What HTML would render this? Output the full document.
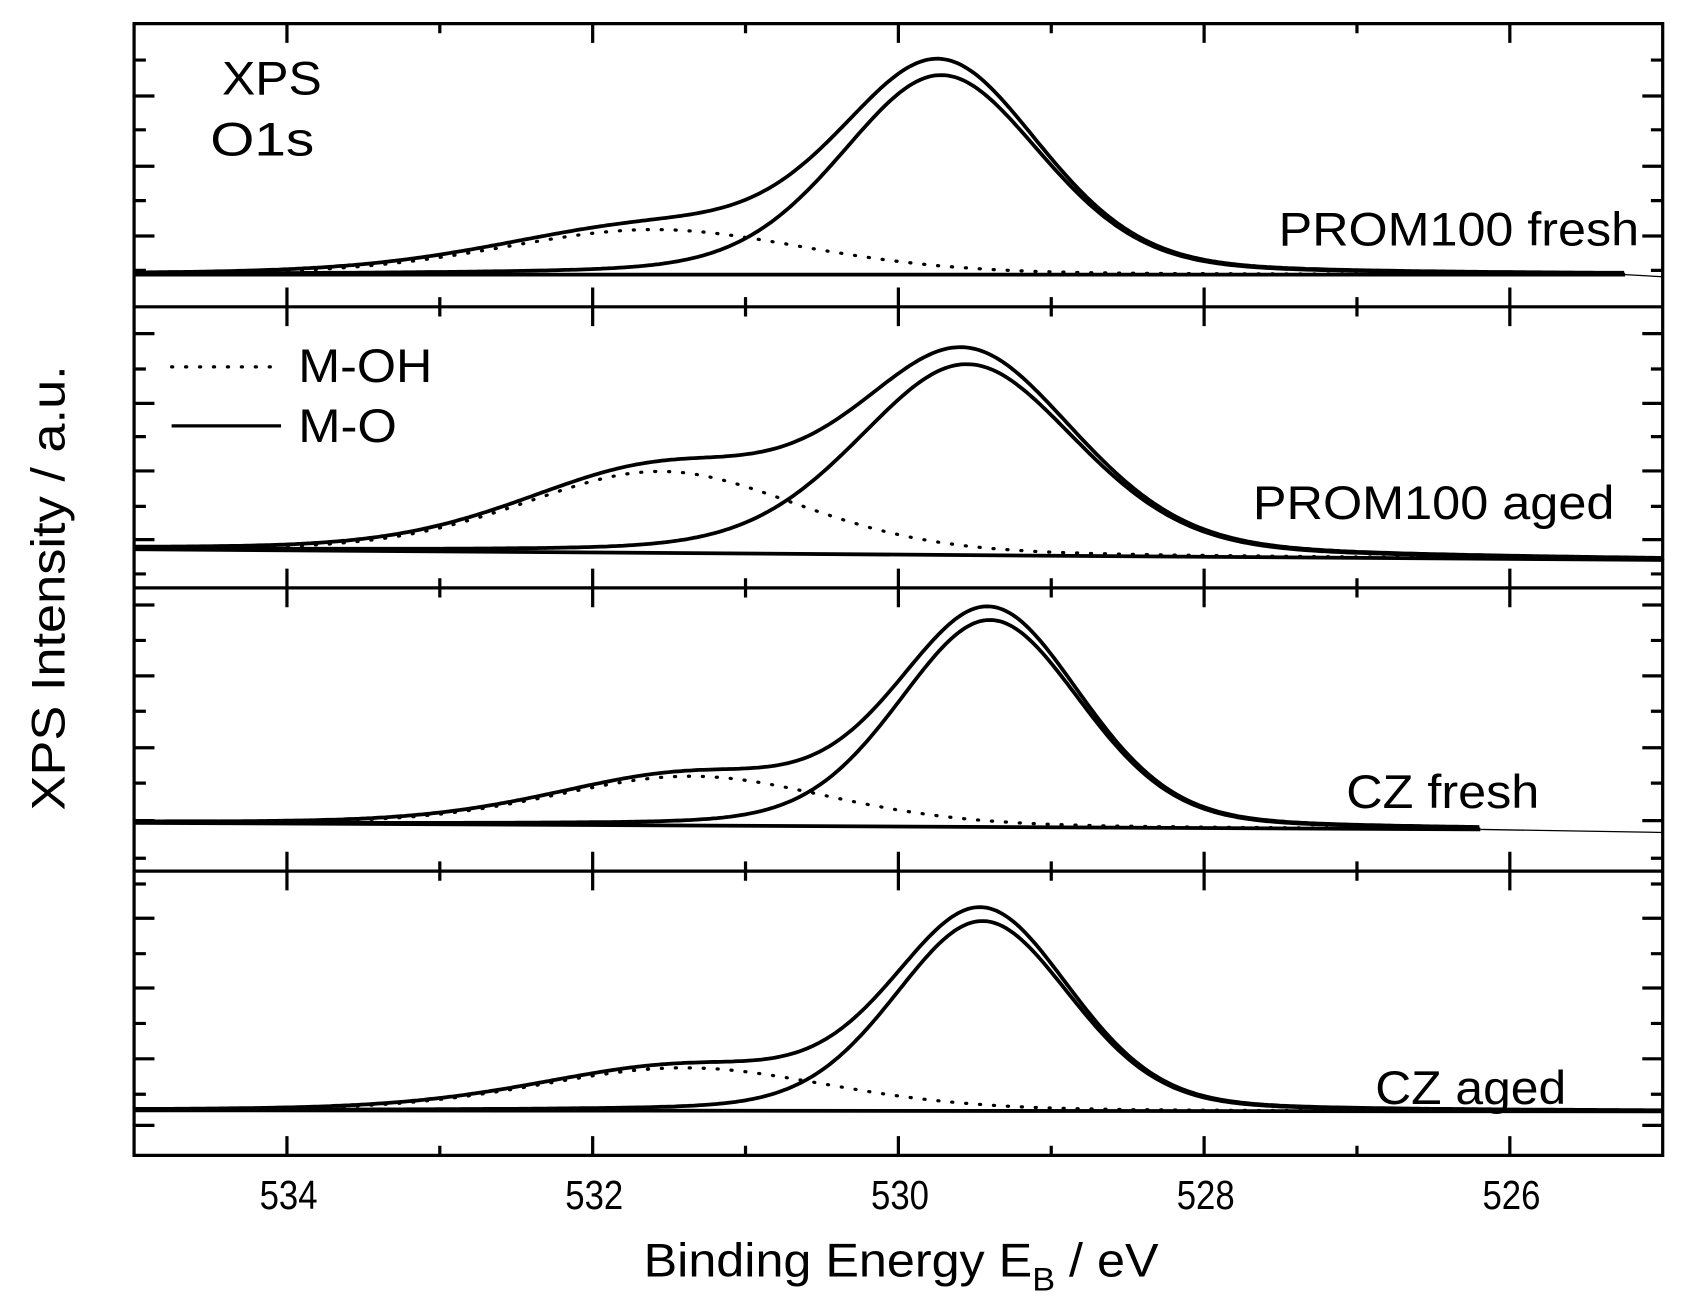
<!DOCTYPE html>
<html><head><meta charset="utf-8"><style>
html,body{margin:0;padding:0;background:#fff;}
svg{display:block;}
text{font-family:"Liberation Sans",sans-serif;fill:#000;}
</style></head><body>
<svg id="s" width="1682" height="1312" viewBox="0 0 1568 1223" preserveAspectRatio="none" xmlns="http://www.w3.org/2000/svg">
<g id="g" fill="none" stroke="#000" stroke-width="3"></g>
<text x="207" y="88" font-size="44" textLength="93" lengthAdjust="spacingAndGlyphs">XPS</text>
<text x="196" y="145" font-size="44" textLength="97" lengthAdjust="spacingAndGlyphs">O1s</text>
<text x="1192" y="229" font-size="44" textLength="336" lengthAdjust="spacingAndGlyphs">PROM100 fresh</text>
<text x="1168" y="484" font-size="44" textLength="337" lengthAdjust="spacingAndGlyphs">PROM100 aged</text>
<text x="1255" y="753" font-size="44" textLength="180" lengthAdjust="spacingAndGlyphs">CZ fresh</text>
<text x="1282" y="1029" font-size="44" textLength="178" lengthAdjust="spacingAndGlyphs">CZ aged</text>
<text x="278" y="356" font-size="44" textLength="125" lengthAdjust="spacingAndGlyphs">M-OH</text>
<text x="278" y="412" font-size="44" textLength="92" lengthAdjust="spacingAndGlyphs">M-O</text>
<text x="242" y="1127" font-size="38" textLength="54" lengthAdjust="spacingAndGlyphs">534</text>
<text x="527" y="1127" font-size="38" textLength="54" lengthAdjust="spacingAndGlyphs">532</text>
<text x="812" y="1127" font-size="38" textLength="54" lengthAdjust="spacingAndGlyphs">530</text>
<text x="1097" y="1127" font-size="38" textLength="54" lengthAdjust="spacingAndGlyphs">528</text>
<text x="1382" y="1127" font-size="38" textLength="54" lengthAdjust="spacingAndGlyphs">526</text>
<text x="600" y="1190" font-size="44" textLength="480" lengthAdjust="spacingAndGlyphs">Binding Energy E<tspan font-size="30" dy="13">B</tspan><tspan dy="-13"> / eV</tspan></text>
<text transform="translate(60,548) rotate(-90)" font-size="44" text-anchor="middle" textLength="415" lengthAdjust="spacingAndGlyphs">XPS Intensity / a.u.</text>
</svg>
<script>
var g=document.getElementById('g');
function P(d,w,da){var p=document.createElementNS('http://www.w3.org/2000/svg','path');p.setAttribute('d',d);if(w)p.setAttribute('stroke-width',w);if(da){p.setAttribute('stroke-dasharray',da);p.setAttribute('stroke-linecap','round');}g.appendChild(p);}
function X(E){return 125+(535-E)*142.5;}
var L=125,R=1550,T=22,B=1077;
var seps=[22,286,548,812,1077];
P('M'+L+' '+T+'H'+R+'V'+B+'H'+L+'Z',3);
for(var i=1;i<4;i++)P('M'+L+' '+seps[i]+'H'+R,3);
var d='';
for(var i=0;i<4;i++){for(var E=534;E>=526;E--){var x=X(E),len=(E%2==0)?18:9;d+='M'+x+' '+seps[i]+'v'+len+'M'+x+' '+seps[i+1]+'v'+(-len);}}
P(d,3);
var yt=[[56,89.5,121,155,187,220,252],[311,344,376,407,439,472,503,535],[564,597,630,663,697,730,765,800],[824,856,889,921,954,987,1020,1049]];
var lng=[[0,1,0,1,0,1,0],[1,0,1,0,1,0,1,0],[1,0,1,0,1,0,1,0],[0,1,0,1,0,1,0,1]];
d='';
for(var i=0;i<4;i++)for(var j=0;j<yt[i].length;j++){var l=lng[i][j]?19:11;d+='M'+L+' '+yt[i][j]+'h'+l+'M'+R+' '+yt[i][j]+'h'+(-l);}
P(d,3);
function pv(E,c,s,eta){var gg=Math.exp(-0.5*Math.pow((E-c)/s,2));var hw=s*1.1774;var lo=1/(1+Math.pow((E-c)/hw,2));return (1-eta)*gg+eta*lo;}
var panels=[
 {b0:256,b1:256,x1:1515,mo:[529.72,186,0.66,0.25],oh:[531.6,42,1.0,0.2]},
 {b0:512,b1:522,x1:1550,mo:[529.55,178,0.72,0.25],oh:[531.55,76,0.9,0.2]},
 {b0:767,b1:774,x1:1380,mo:[529.4,193,0.6,0.2],oh:[531.35,46,0.9,0.2]},
 {b0:1035,b1:1036,x1:1550,mo:[529.45,177,0.58,0.2],oh:[531.4,40,0.95,0.2]}
];
panels.forEach(function(p){
 function base(x){return p.b0+(p.b1-p.b0)*(x-L)/(R-L);}
 var dm='',doh='',de='',db='M'+L+' '+base(L)+'L'+p.x1+' '+base(p.x1);
 for(var x=L;x<=p.x1;x+=3){var E=535-(x-125)/142.5;
  var m=p.mo[1]*pv(E,p.mo[0],p.mo[2],p.mo[3]);var o=p.oh[1]*pv(E,p.oh[0],p.oh[2],p.oh[3]);var b=base(x);
  dm+=(x==L?'M':'L')+x+' '+(b-m).toFixed(1);
  doh+=(x==L?'M':'L')+x+' '+(b-o).toFixed(1);
  de+=(x==L?'M':'L')+x+' '+(b-m-o-7*(m/p.mo[1])).toFixed(1);}
 P(db,3.5);P(dm,3.5);P(doh,3,'1 12');P(de,3.5);
 if(p.x1<R)P('M'+p.x1+' '+base(p.x1)+'L'+R+' '+(base(R)+2),1.2);
});
P('M160 342H262',3,'1 12');P('M160 397H262',3);
</script>
</body></html>
